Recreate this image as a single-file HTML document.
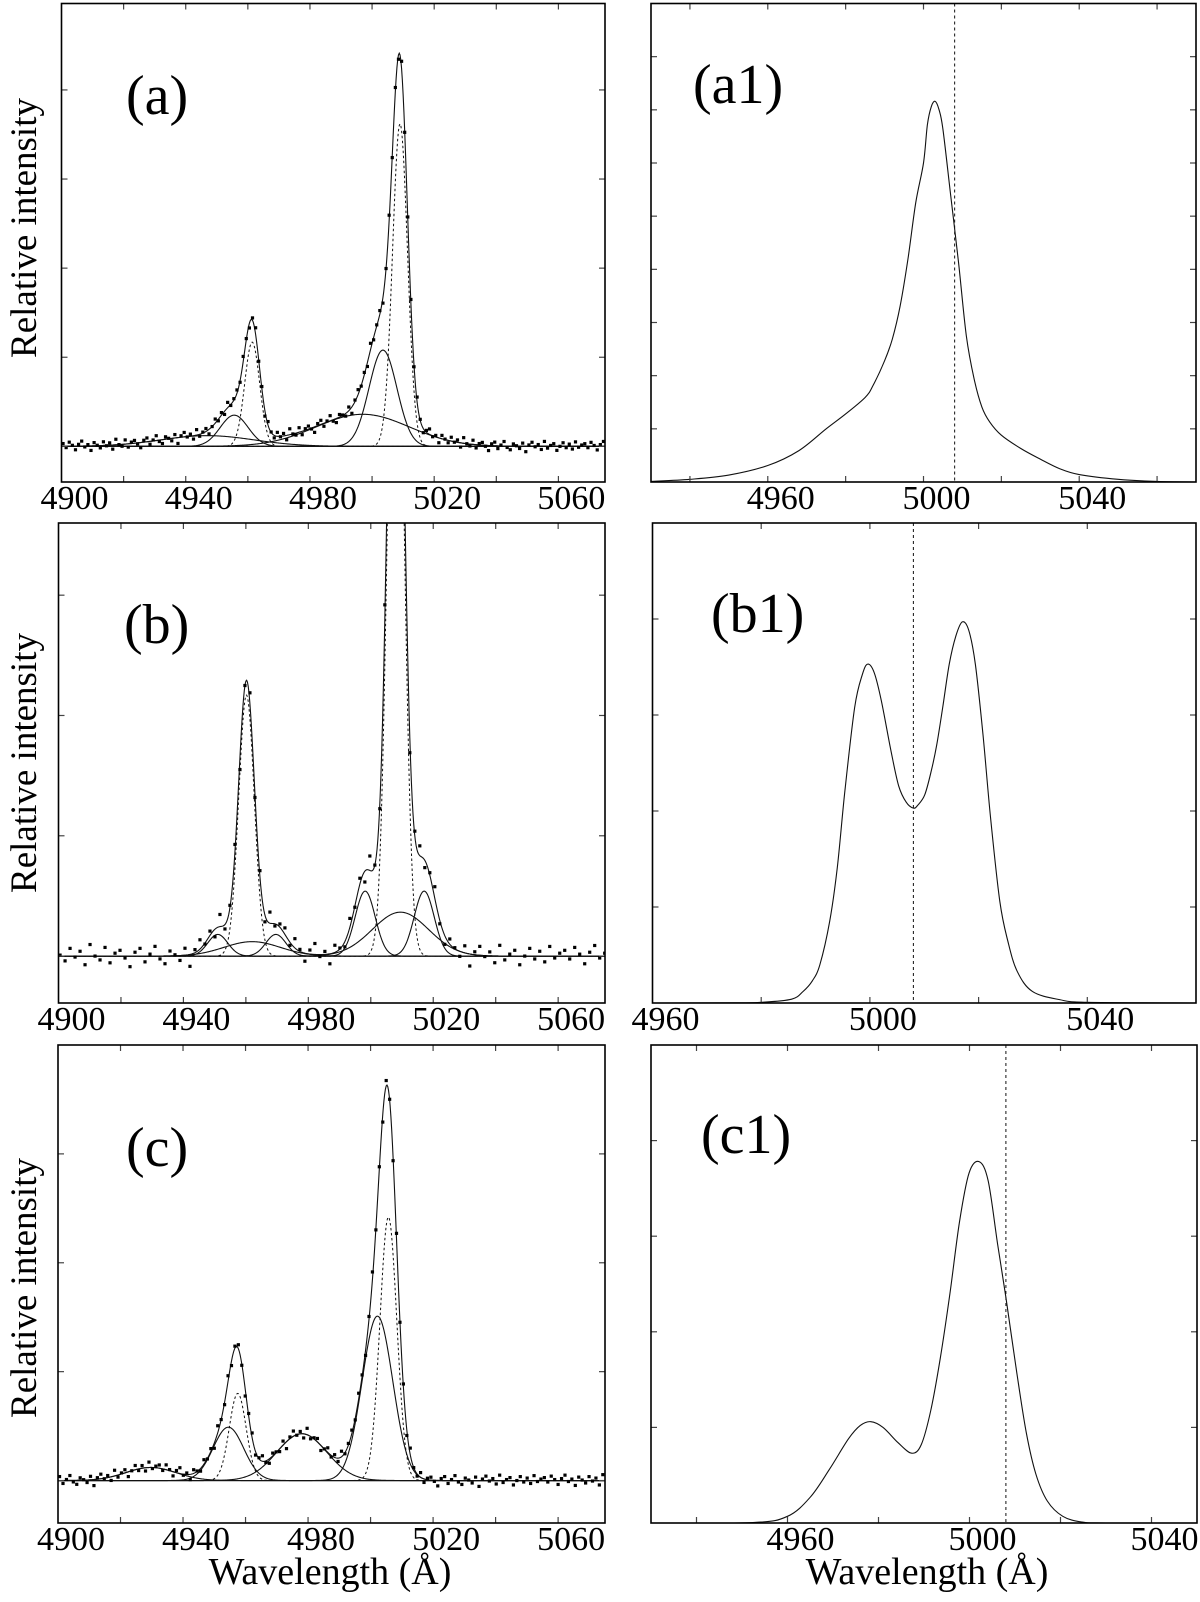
<!DOCTYPE html>
<html><head><meta charset="utf-8"><style>
html,body{margin:0;padding:0;background:#fff}
svg{display:block}
svg text{font-family:"Liberation Serif","DejaVu Serif",serif;fill:#000}
</style></head><body>
<svg id="fig" width="1200" height="1602" viewBox="0 0 1200 1602" xmlns="http://www.w3.org/2000/svg" font-family="'Liberation Serif', 'DejaVu Serif', serif">
<rect width="1200" height="1602" fill="#fff"/>
</svg>
<script>
// ---- Panel (a) fit components: amplitude, centre (Å), sigma (Å)
const aAmp = [1.17, 0.35, 0.12, 3.62, 1.08, 0.36];
const aCen = [4961.4, 4955.6, 4947, 5009, 5003.5, 4997];
const aSig = [2.4, 4.5, 15, 2.4, 4.5, 15];
const aDotted = [true, false, false, true, false, false];
// ---- Panel (b)
const bAmp = [2.17, 0.18, 0.18, 0.12, 6.45, 0.54, 0.54, 0.365];
const bCen = [4960.2, 4951, 4969.6, 4962, 5008, 4998.2, 5017.1, 5009.5];
const bSig = [2.5, 3.2, 3.2, 9, 2.5, 3.2, 3.2, 9];
const bDotted = [true, false, false, false, true, false, false, false];
// ---- Panel (c)
const cAmp = [0.80, 0.49, 0.12, 2.42, 1.51, 0.43];
const cCen = [4957.5, 4954.5, 4929.7, 5005.7, 5002.2, 4978];
const cSig = [2.7, 4.9, 8, 2.7, 4.9, 8];
const cDotted = [true, false, false, true, false, false];
// ---- observed-point residuals (hand-read scatter, units of panel noise)
const resid = [0.6,-0.3,0.9,0.2,-0.8,0.4,1.1,-0.2,0.3,-1.0,0.7,0.1,-0.5,0.8,-0.1,0.5,-0.9,1.2,0.0,-0.4,
  0.9,-0.7,0.3,0.6,-0.2,-1.1,0.4,0.8,-0.6,0.2,1.0,-0.3,-0.8,0.5,0.1,-0.5,0.7,-1.2,0.3,0.9,
  -0.1,0.4,-0.7,1.1,-0.4,0.2,0.6,-0.9,0.0,0.8,-0.3,0.5,-0.6,1.0,-0.2,0.3];
// ---- Right-hand model profiles
const a1Lam = [4930,4940,4950,4960,4968,4975,4980,4985,4987,4990,4992,4994,4996,4998,5000,5001,5002,5003,5004,5005,5007,5009,5011,5013,5015,5017,5020,5025,5030,5035,5040,5050,5060,5070];
const a1Val = [0.01,0.05,0.13,0.31,0.59,1.0,1.28,1.59,1.81,2.28,2.69,3.31,4.19,5.25,6.0,6.72,7.06,7.16,7.0,6.63,5.38,4.13,2.75,1.94,1.41,1.13,0.88,0.63,0.43,0.25,0.14,0.05,0.01,0];
const b1Lam = [4960,4975,4980,4985.6,4987.7,4989.4,4990.8,4992.6,4994,4995.4,4997.2,4998.6,4999.6,5000.8,5002.1,5003.9,5005.3,5006.7,5008,5008.8,5010.1,5011.3,5012.3,5013.4,5014.6,5015.8,5017,5018.2,5019.4,5020.8,5022.2,5023.9,5025.4,5027.1,5029.9,5034.9,5040,5060];
const b1Val = [0,0.002,0.007,0.04,0.12,0.23,0.40,0.85,1.41,2.21,3.08,3.42,3.53,3.44,3.15,2.62,2.26,2.09,2.03,2.06,2.17,2.42,2.69,3.08,3.53,3.82,3.97,3.88,3.53,2.80,1.93,1.06,0.64,0.33,0.12,0.035,0.007,0];
const c1Lam = [4930,4952.4,4960,4965,4969.2,4973.4,4976,4978.3,4981,4984.3,4987.3,4989.4,4991.5,4993.6,4995.7,4997.8,4999.9,5002.1,5004.1,5006.2,5008,5010.4,5012.5,5014.6,5017.1,5020.5,5024.7,5030,5050];
const c1Val = [0,0.005,0.07,0.27,0.56,0.88,1.02,1.06,1.0,0.84,0.73,0.82,1.18,1.73,2.40,3.15,3.66,3.78,3.58,2.91,2.36,1.57,0.94,0.51,0.23,0.07,0.01,0,0];
const restLam = [5008, 5008, 5008];
const xTicksLeft = [4900,4920,4940,4960,4980,5000,5020,5040,5060];
const xLabelsLeft = [4900,4940,4980,5020,5060];
const xLabelsRight = [4960,5000,5040];

const NS = "http://www.w3.org/2000/svg";
const FONT = "'Liberation Serif', 'DejaVu Serif', serif";
const svg = document.getElementById('fig');
function mk(tag, attrs, parent){ const e=document.createElementNS(NS,tag); for(const k in attrs) e.setAttribute(k,attrs[k]); if(tag==='text') e.setAttribute('font-family',FONT); (parent||svg).appendChild(e); return e; }

function panel(id, box, xr, yr){
  const g = mk('g',{});
  
  
  const sx = v => box[0] + (v - xr[0]) / (xr[1]-xr[0]) * (box[1]-box[0]);
  const sy = v => box[3] - (v - yr[0]) / (yr[1]-yr[0]) * (box[3]-box[2]);
  const cp = mk('clipPath',{id:'clip-'+id}, g);
  mk('rect',{x:box[0],y:box[2],width:box[1]-box[0],height:box[3]-box[2]}, cp);
  const inner = mk('g',{'clip-path':'url(#clip-'+id+')'}, g);
  return {g, inner, sx, sy, box, xr, yr};
}
function frame(P, xt, yt, xl){
  const b=P.box;
  const ax = mk('g',{}, P.g);
  
  
  xt.forEach(v=>{ if(v<=P.xr[0]||v>=P.xr[1]) return; const x=P.sx(v);
    mk('line',{x1:x,x2:x,y1:b[3],y2:b[3]-6,stroke:'#444','stroke-width':1.2},ax);
    mk('line',{x1:x,x2:x,y1:b[2],y2:b[2]+6,stroke:'#444','stroke-width':1.2},ax); });
  yt.forEach(v=>{ const y=P.sy(v);
    mk('line',{x1:b[0],x2:b[0]+6,y1:y,y2:y,stroke:'#444','stroke-width':1.2},ax);
    mk('line',{x1:b[1],x2:b[1]-6,y1:y,y2:y,stroke:'#444','stroke-width':1.2},ax); });
  mk('rect',{x:b[0],y:b[2],width:b[1]-b[0],height:b[3]-b[2],fill:'none',stroke:'#000','stroke-width':1.6},ax);
  xl.forEach(v=>{ const t=mk('text',{x:P.sx(v)+13,y:b[3]+27,'font-size':34,'text-anchor':'middle'},P.g); t.textContent=v;
    
     });
}
function gauss(A,c,s,x){ return A*Math.exp(-(x-c)*(x-c)/(2*s*s)); }
function polyline(P, xs, ys, dotted, name){
  let d=''; xs.forEach((x,i)=>{ d += (i?'L':'M')+P.sx(x).toFixed(2)+','+P.sy(ys[i]).toFixed(2); });
  const p = mk('path',{d:d,fill:'none',stroke:'#111','stroke-width':dotted?1:1.1,'stroke-dasharray':dotted?'2.5,2.5':'none'},P.inner);
  
  
}
function smoothLine(P, xs, ys, name){
  const pts = xs.map((x,i)=>[P.sx(x),P.sy(ys[i])]);
  let d='M'+pts[0][0].toFixed(2)+','+pts[0][1].toFixed(2);
  for(let i=0;i<pts.length-1;i++){
    const p0=pts[Math.max(0,i-1)], p1=pts[i], p2=pts[i+1], p3=pts[Math.min(pts.length-1,i+2)];
    const c1=[p1[0]+(p2[0]-p0[0])/6, p1[1]+(p2[1]-p0[1])/6];
    const c2=[p2[0]-(p3[0]-p1[0])/6, p2[1]-(p3[1]-p1[1])/6];
    d+='C'+c1[0].toFixed(2)+','+c1[1].toFixed(2)+' '+c2[0].toFixed(2)+','+c2[1].toFixed(2)+' '+p2[0].toFixed(2)+','+p2[1].toFixed(2);
  }
  const p = mk('path',{d:d,fill:'none',stroke:'#111','stroke-width':1.1},P.inner);
  
  
}
function fitPanel(P, amp, cen, sig, dotted, step, noise, offset){
  const xs=[]; for(let x=P.xr[0]; x<=P.xr[1]; x+=0.25) xs.push(x);
  polyline(P, [P.xr[0],P.xr[1]], [0,0], false, 'baseline');
  amp.forEach((A,i)=>{
    polyline(P, xs, xs.map(x=>gauss(A,cen[i],sig[i],x)), dotted[i], 'component-'+i);
  });
  const total = x => amp.reduce((s,A,i)=>s+gauss(A,cen[i],sig[i],x),0);
  polyline(P, xs, xs.map(total), false, 'total-fit');
  let k=0;
  for(let x=P.xr[0]+0.5; x<P.xr[1]; x+=step){
    const m = total(x);
    const v = m + resid[(k+offset)%resid.length]*noise*(1+0.3*Math.sqrt(m));
    k++;
    const r = mk('rect',{x:(P.sx(x)-1.6).toFixed(2),y:(P.sy(v)-1.6).toFixed(2),width:3.2,height:3.2,fill:'#000'},P.inner);
    
    
  }
}
function label(txt,x,y,name){ const t=mk('text',{x:x,y:y,'font-size':56},svg); t.textContent=txt;
  
   }
function ylabel(cy,name){ const t=mk('text',{x:0,y:0,'font-size':37,'text-anchor':'middle',transform:'translate(36,'+cy+') rotate(-90)'},svg); t.textContent='Relative intensity';
  
   }
function profilePanel(P, lam, val, rest){
  smoothLine(P, lam, val, 'model-profile');
  const x=P.sx(rest);
  const l=mk('line',{x1:x,x2:x,y1:P.box[2],y2:P.box[3],stroke:'#111','stroke-width':1,'stroke-dasharray':'3,3'},P.inner);
  
  
}

const PA = panel('a',[61.5,605,3.5,482],[4900,5075],[-0.40,4.97]);
fitPanel(PA, aAmp, aCen, aSig, aDotted, 1.0, 0.05, 0);
frame(PA, xTicksLeft, [0,1,2,3,4], xLabelsLeft);
const PA1 = panel('a1',[651,1196,3.5,482],[4930,5070],[0,9]);
profilePanel(PA1, a1Lam, a1Val, restLam[0]);
frame(PA1, [4940,4960,4980,5000,5020,5040,5060], [1,2,3,4,5,6,7,8], xLabelsRight);
const PB = panel('b',[58.5,605,523,1003],[4900,5075],[-0.39,3.60]);
fitPanel(PB, bAmp, bCen, bSig, bDotted, 1.6, 0.08, 11);
frame(PB, xTicksLeft, [0,1,2,3], xLabelsLeft);
const PB1 = panel('b1',[652.5,1196,523,1003],[4960,5060],[0,5]);
profilePanel(PB1, b1Lam, b1Val, restLam[1]);
frame(PB1, [4980,5000,5020,5040], [1,2,3,4], [4960,5000,5040]);
const PC = panel('c',[58,605,1045,1523],[4900,5075],[-0.39,4.0]);
fitPanel(PC, cAmp, cCen, cSig, cDotted, 1.1, 0.045, 27);
frame(PC, xTicksLeft, [0,1,2,3], xLabelsLeft);
const PC1 = panel('c1',[651,1197,1045,1523],[4930,5050],[0,5]);
profilePanel(PC1, c1Lam, c1Val, restLam[2]);
frame(PC1, [4940,4960,4980,5000,5020,5040], [1,2,3,4], xLabelsRight);

label('(a)',126,114,'panel-label-a');
label('(a1)',693,103,'panel-label-a1');
label('(b)',124,643,'panel-label-b');
label('(b1)',711,632,'panel-label-b1');
label('(c)',126,1166,'panel-label-c');
label('(c1)',701,1153,'panel-label-c1');
ylabel(228,'y-axis-title-a');
ylabel(763,'y-axis-title-b');
ylabel(1288,'y-axis-title-c');
const w1=mk('text',{x:330,y:1584,'font-size':38,'text-anchor':'middle'},svg); w1.textContent='Wavelength (Å)';


const w2=mk('text',{x:927,y:1584,'font-size':38,'text-anchor':'middle'},svg); w2.textContent='Wavelength (Å)';


</script>
</body></html>
